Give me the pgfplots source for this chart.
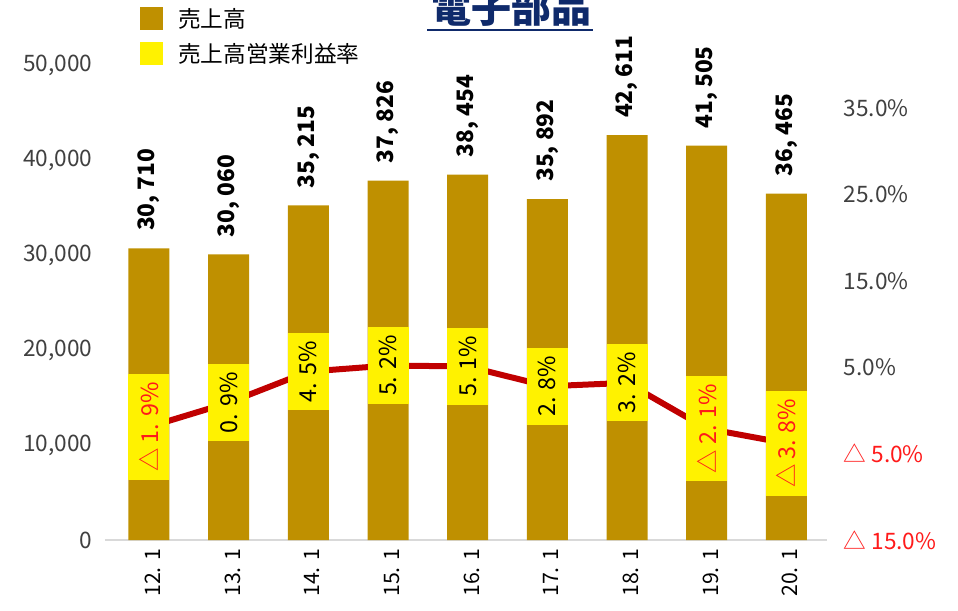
\documentclass[border=0pt]{standalone}
\usepackage{pgfplots}
\pgfplotsset{compat=1.18}
\usepackage{fontspec}
\setmainfont{Noto Sans CJK JP}
\definecolor{barc}{HTML}{BF9000}
\definecolor{linec}{HTML}{C00000}
\definecolor{titlec}{HTML}{0F2A6B}
\definecolor{tickc}{HTML}{404040}
\definecolor{negc}{HTML}{FF1A1A}
\begin{document}
\begin{tikzpicture}[x=0.75pt,y=0.75pt]
\useasboundingbox (0,0) rectangle (958,-611);
% title
\node[anchor=base, inner sep=0pt, font=\fontsize{30}{34}\selectfont\bfseries, text=titlec] (T) at (511,-22) {電子部品};
\draw[titlec, line width=1.5pt] (427,-30) -- (593,-30);
% legend
\fill[barc] (140,-7) rectangle (163,-30);
\node[anchor=west, inner sep=0pt, font=\fontsize{17}{20}\selectfont] at (178,-18.5) {売上高};
\fill[yellow] (140,-42) rectangle (163,-65);
\node[anchor=west, inner sep=0pt, font=\fontsize{17}{20}\selectfont] at (178,-53.5) {売上高営業利益率};
\begin{axis}[
  at={(78.75pt,-405pt)}, anchor=south west,
  scale only axis, width=541.5pt, height=356.25pt,
  xmin=-0.552, xmax=8.51, ymin=0, ymax=50000,
  ybar, bar width=30.75pt,
  axis y line*=left, axis x line*=bottom,
  y axis line style={draw=none},
  x axis line style={draw=black!15, line width=1.2pt, -},
  major tick length=0,
  scaled y ticks=false,
  xtick={0,...,8},
  xticklabels={12. 1,13. 1,14. 1,15. 1,16. 1,17. 1,18. 1,19. 1,20. 1},
  xticklabel style={rotate=90, anchor=east, font=\fontsize{16}{18}\selectfont, text=black, inner sep=0pt, xshift=-6.5pt, yshift=-3pt},
  ytick={0,10000,20000,30000,40000,50000},
  yticklabels={0,{10,000},{20,000},{30,000},{40,000},{50,000}},
  yticklabel style={font=\fontsize{17}{20}\selectfont, text=tickc, xshift=-6pt},
  point meta=explicit symbolic,
  nodes near coords,
  every node near coord/.append style={rotate=90, anchor=west, inner sep=0pt, outer xsep=13pt, font=\fontsize{17}{20}\selectfont\bfseries, text=black},
  clip=false,
]
\addplot[fill=barc, draw=none] coordinates {
 (0,30710) [{30, 710}]
 (1,30060) [{30, 060}]
 (2,35215) [{35, 215}]
 (3,37826) [{37, 826}]
 (4,38454) [{38, 454}]
 (5,35892) [{35, 892}]
 (6,42611) [{42, 611}]
 (7,41505) [{41, 505}]
 (8,36465) [{36, 465}]
};
\end{axis}
\begin{axis}[
  at={(78.75pt,-405pt)}, anchor=south west,
  scale only axis, width=541.5pt, height=356.25pt,
  xmin=-0.552, xmax=8.51, ymin=-15, ymax=40,
  axis y line*=right, hide x axis,
  y axis line style={draw=none},
  major tick length=0,
  ytick={-15,-5,5,15,25,35},
  yticklabels={{\textcolor{negc}{△ 15.0\%}},{\textcolor{negc}{△ 5.0\%}},{5.0\%},{15.0\%},{25.0\%},{35.0\%}},
  yticklabel style={font=\fontsize{17}{20}\selectfont, text=tickc, anchor=west, xshift=9pt},
  point meta=explicit symbolic,
  nodes near coords,
  every node near coord/.append style={rotate=90, anchor=center, fill=yellow, minimum height=30.75pt, inner xsep=6pt, font=\fontsize{17.5}{20}\selectfont, text=black},
  clip=false,
]
\addplot[linec, line width=4.5pt, mark=none] coordinates {
 (0,-1.9) [{\textcolor{negc}{△ 1. 9\%}}]
 (1,0.9) [{0. 9\%}]
 (2,4.5) [{4. 5\%}]
 (3,5.2) [{5. 2\%}]
 (4,5.1) [{5. 1\%}]
 (5,2.8) [{2. 8\%}]
 (6,3.2) [{3. 2\%}]
 (7,-2.1) [{\textcolor{negc}{△ 2. 1\%}}]
 (8,-3.8) [{\textcolor{negc}{△ 3. 8\%}}]
};
\end{axis}
\end{tikzpicture}
\end{document}
